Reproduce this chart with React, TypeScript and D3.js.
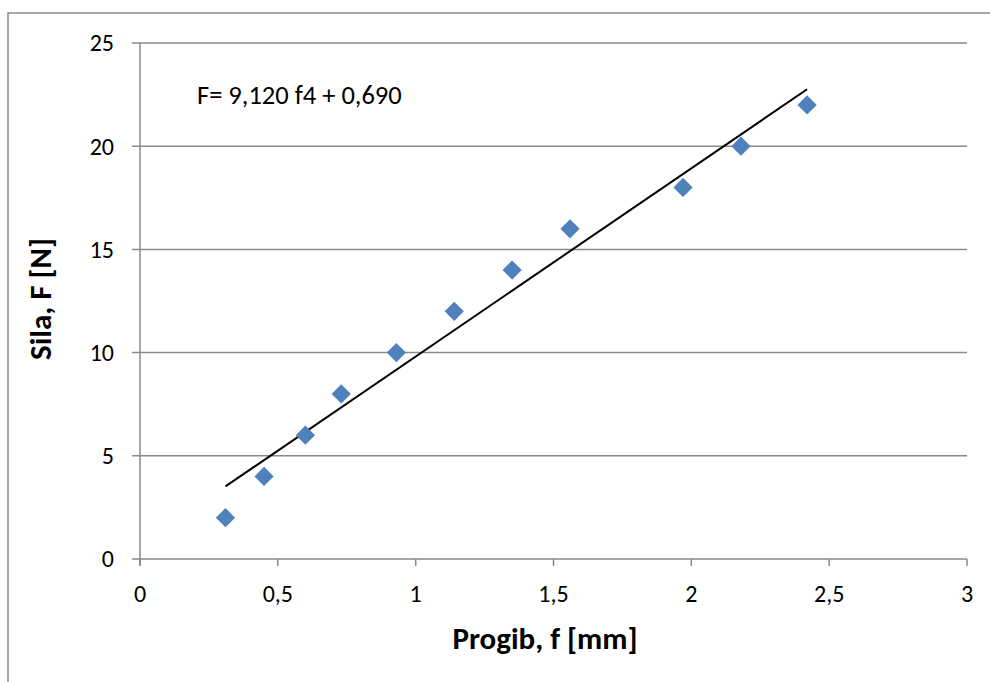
import React from "react";
import * as d3 from "d3";

const progib: number[] = [0.31, 0.45, 0.6, 0.73, 0.93, 1.14, 1.35, 1.56, 1.97, 2.18, 2.42];
const sila: number[] = [2, 4, 6, 8, 10, 12, 14, 16, 18, 20, 22];
const xTicks: number[] = [0, 0.5, 1, 1.5, 2, 2.5, 3];
const yTicks: number[] = [0, 5, 10, 15, 20, 25];
const slope = 9.12;
const intercept = 0.69;
const equationLabel = "F= 9,120 f4 + 0,690";
const xTitle = "Progib, f [mm]";
const yTitle = "Sila, F [N]";

const W = 990;
const H = 682;
const left = 140;
const right = 967;
const top = 43;
const bottom = 559;
const FONT = "Calibri, Carlito, Lato, 'Open Sans', sans-serif";
const fmt = (v: number) => String(v).replace(".", ",");

export default function App() {
  const x = d3.scaleLinear().domain([0, 3]).range([left, right]);
  const y = d3.scaleLinear().domain([0, 25]).range([bottom, top]);
  const grid = "#8a8a8a";
  const xMin = d3.min(progib) as number;
  const xMax = d3.max(progib) as number;
  const trend = d3.line<number>()
    .x((d) => x(d))
    .y((d) => y(slope * d + intercept))([xMin, xMax]);
  const diamond = d3.symbol().type(d3.symbolSquare).size(185)();

  return (
    <svg width={W} height={H} style={{ position: "absolute", left: 0, top: 0, background: "#fff" }}>
      <path d={`M8,${H} V13 H${W}`} fill="none" stroke="#8a8a8a" strokeWidth={1.5} />
      {yTicks.map((t) => (
        <g key={"y" + t}>
          <line x1={left - 8} x2={right} y1={y(t)} y2={y(t)} stroke={grid} strokeWidth={1.5} />
          <text x={left - 26} y={y(t)} dy="0.35em" textAnchor="end" fontFamily={FONT} fontSize={24} fill="#000">
            {fmt(t)}
          </text>
        </g>
      ))}
      <line x1={left} x2={left} y1={top} y2={bottom + 7} stroke={grid} strokeWidth={1.5} />
      {xTicks.map((t) => (
        <g key={"x" + t}>
          <line x1={x(t)} x2={x(t)} y1={bottom} y2={bottom + 7} stroke={grid} strokeWidth={1.5} />
          <text x={x(t)} y={602} textAnchor="middle" fontFamily={FONT} fontSize={24} fill="#000">
            {fmt(t)}
          </text>
        </g>
      ))}
      <path d={trend || ""} fill="none" stroke="#000" strokeWidth={2} />
      {progib.map((v, i) => (
        <path
          key={"p" + i}
          d={diamond || ""}
          transform={`translate(${x(v)},${y(sila[i])}) rotate(45)`}
          fill="#4F81BD"
        />
      ))}
      <text x={197} y={104} fontFamily={FONT} fontSize={26.5} fill="#000">
        {equationLabel}
      </text>
      <text x={545} y={649} textAnchor="middle" fontFamily={FONT} fontSize={31} fontWeight="bold" fill="#000">
        {xTitle}
      </text>
      <text
        transform={`translate(51,${(top + bottom) / 2 - 2}) rotate(-90)`}
        textAnchor="middle"
        fontFamily={FONT}
        fontSize={31}
        fontWeight="bold"
        fill="#000"
      >
        {yTitle}
      </text>
    </svg>
  );
}
